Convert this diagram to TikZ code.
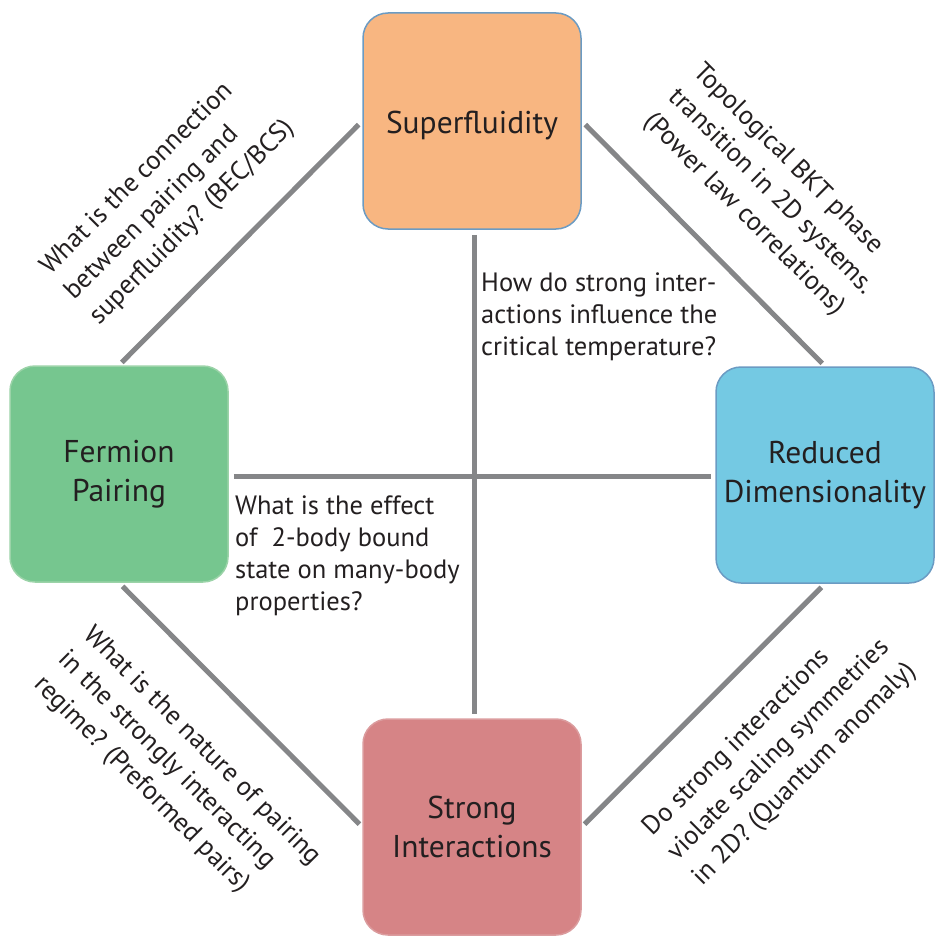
\documentclass[tikz,border=0pt]{standalone}
\usepackage{fontspec}
\setmainfont{PT Sans}
\usetikzlibrary{positioning}

\definecolor{sfcol}{HTML}{F8B681}
\definecolor{fpcol}{HTML}{76C68F}
\definecolor{rdcol}{HTML}{74C9E3}
\definecolor{sicol}{HTML}{D68486}
\definecolor{edgeblue}{HTML}{6B9BC3}
\definecolor{edgegreen}{HTML}{9BD3A8}
\definecolor{edgered}{HTML}{DB9C9E}
\definecolor{linkcol}{HTML}{858688}
\definecolor{textcol}{HTML}{231F20}

\tikzset{
  topic/.style={line width=1.5pt, rounded corners=25pt, minimum width=218pt,
    minimum height=216pt, align=center, text=textcol,
    font=\fontsize{31.5}{39}\selectfont},
  link/.style={draw=linkcol, line width=5pt, shorten <=5pt, shorten >=4pt},
  question/.style={text=textcol, align=left, inner sep=0pt,
    font=\fontsize{26.5}{32}\selectfont},
  turned/.style={question, font=\fontsize{26.5}{35}\selectfont},
}

\begin{document}
\begin{tikzpicture}[x=1pt, y=-1pt]
  \useasboundingbox (0,0) rectangle (934,936);

  % the four topics
  \node[topic, fill=sfcol, draw=edgeblue, text height=34pt, text depth=8pt] (sf) at (472,121) {Superfluidity};
  \node[topic, fill=fpcol, draw=edgegreen] (fp) at (119,474) {Fermion\\Pairing};
  \node[topic, fill=rdcol, draw=edgeblue] (rd) at (825,475) {Reduced\\Dimensionality};
  \node[topic, fill=sicol, draw=edgered] (si) at (472,827) {Strong\\Interactions};

  % links between topics
  \draw[link] (sf.west) -- (fp.north);
  \draw[link] (sf.east) -- (rd.north);
  \draw[link] ([yshift=-2pt]fp.east) -- ([yshift=-1pt]rd.west);
  \draw[link] ([xshift=2pt]sf.south) -- ([xshift=2pt]si.north);
  \draw[link] (fp.south) -- (si.west);
  \draw[link] (rd.south) -- (si.east);

  % questions
  \node[turned, rotate=45] (qsffp) at (168,198)
    {What is the connection\\between pairing and\\superfluidity? (BEC/BCS)};
  \node[turned, rotate=-45] (qsfrd) at (771,192)
    {Topological BKT phase\\transition in 2D systems.\\(Power law correlations)};
  \node[turned, rotate=-45] (qfpsi) at (177,771)
    {What is the nature of pairing\\in the strongly interacting\\regime? (Preformed pairs)};
  \node[turned, rotate=45] (qrdsi) at (780,750)
    {Do strong interactions\\violate scaling symmetries\\in 2D? (Quantum anomaly)};
  \node[question, anchor=north west] (qsfsi) at (481,273)
    {How do strong inter-\\actions influence the\\critical temperature?};
  \node[question, anchor=north west] (qfprd) at (235,496)
    {What is the effect\\of~ 2-body bound\\state on many-body\\properties?};
\end{tikzpicture}
\end{document}
